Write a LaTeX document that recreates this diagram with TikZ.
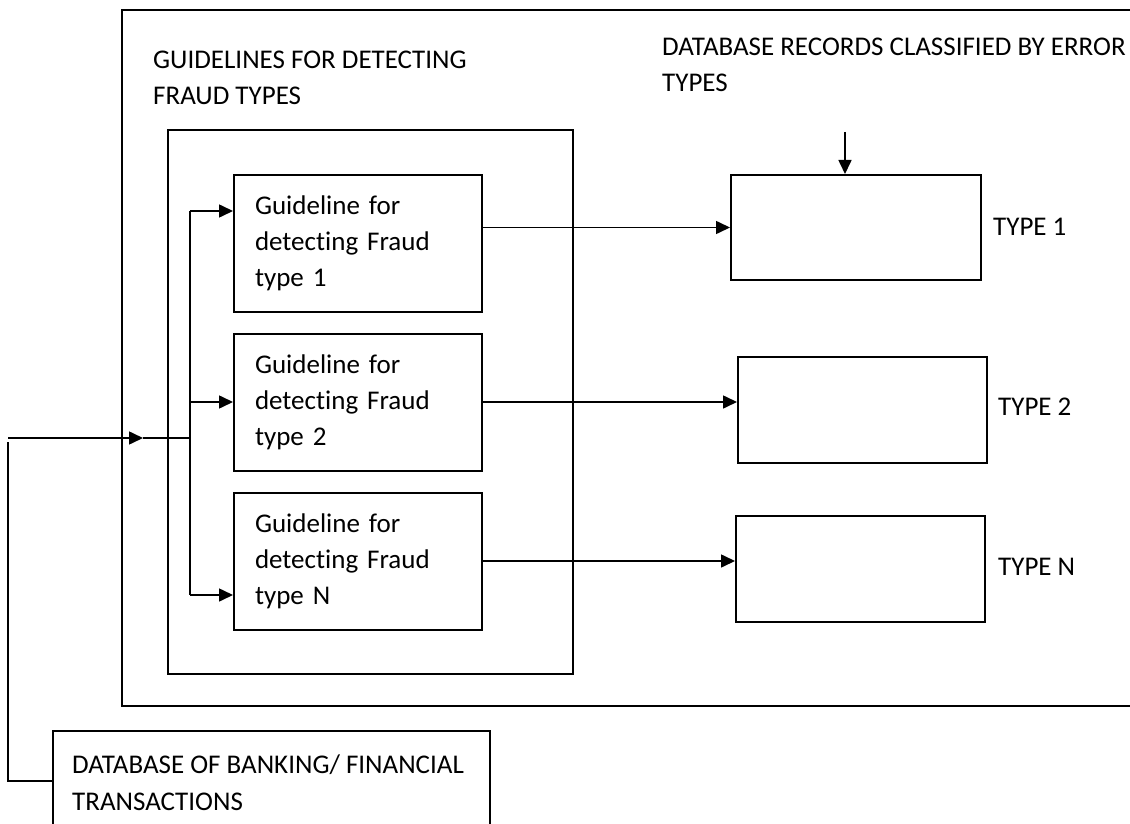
\documentclass[tikz,border=0pt]{standalone}
\usepackage{fontspec}
\setmainfont{Carlito}[Ligatures=NoCommon]
\usetikzlibrary{arrows.meta}
\begin{document}
\begin{tikzpicture}[x=1pt,y=-1pt,
  every node/.style={font=\fontsize{27}{36}\selectfont},
  ln/.style={line width=1.6pt},
  bl/.style={line width=2pt},
  arr/.style={ln,-{Triangle[length=14pt,width=13pt]}},
  gbox/.style={draw,bl,minimum height=137pt,text width=206pt,inner xsep=21pt,align=left},
  tbox/.style={draw,bl,minimum width=249pt,minimum height=106pt,inner sep=0pt},
  lbl/.style={inner sep=0pt,anchor=base west}]
\useasboundingbox (0,0) rectangle (1130,824);
\clip (0,0) rectangle (1130,824);
% outer frame (open to the right)
\draw[bl] (1140,10) -- (122,10) -- (122,706) -- (1140,706);
% inner frame
\node[draw,bl,minimum width=405pt,minimum height=544pt,inner sep=0pt,anchor=north west] (inner) at (167,129) {};
% headers
\node[lbl] (h1a) at (153,69) {GUIDELINES FOR DETECTING};
\node[lbl] (h1b) at (153,105) {FRAUD TYPES};
\node[lbl] (h2a) at (662,56) {DATABASE RECORDS CLASSIFIED BY ERROR};
\node[lbl] (h2b) at (662,92) {TYPES};
% guideline boxes
\node[gbox] (g1) at (358,243.5) {Guideline for\\detecting Fraud\\type 1};
\node[gbox] (g2) at (358,402) {Guideline for\\detecting Fraud\\type 2};
\node[gbox] (g3) at (358,561) {Guideline for\\detecting Fraud\\type N};
% type boxes
\node[tbox,minimum width=250pt,minimum height=105pt] (t1) at (856,227.5) {};
\node[tbox] (t2) at (862.5,410) {};
\node[tbox] (t3) at (860.5,569) {};
\node[lbl] (l1) at (993,235) {TYPE 1};
\node[lbl] (l2) at (998,415) {TYPE 2};
\node[lbl] (l3) at (998,575) {TYPE N};
% database box
\node[draw,bl,minimum width=437pt,minimum height=100pt,inner sep=0pt,anchor=north west] (db) at (52,730) {};
\node[lbl] (dba) at (72,773) {DATABASE OF BANKING/ FINANCIAL};
\node[lbl] (dbb) at (72,810) {TRANSACTIONS};
% connectors
\coordinate (bt) at (190,211);
\coordinate (bb) at (190,595);
\coordinate (bj) at (190,438);
\coordinate (in) at (8,438);
\coordinate (inm) at (143,438);
\coordinate (dl) at (8,442);
\coordinate (dtop) at (845,132);
\draw[ln] (bt) -- (bb);
\draw[arr] (bt) -- (bt -| g1.west);
\draw[arr] (g2.west -| bj) -- (g2.west);
\draw[arr] (bb) -- (bb -| g3.west);
\draw[arr] (in) -- (inm);
\draw[ln] (inm) -- (bj);
\draw[ln] (dl) |- (db.west);
\draw[arr] (g1.east |- t1.west) -- (t1.west);
\draw[arr] (g2.east) -- (g2.east -| t2.west);
\draw[arr] (g3.east) -- (g3.east -| t3.west);
\draw[arr] (dtop) -- (dtop |- t1.north);
\end{tikzpicture}
\end{document}
